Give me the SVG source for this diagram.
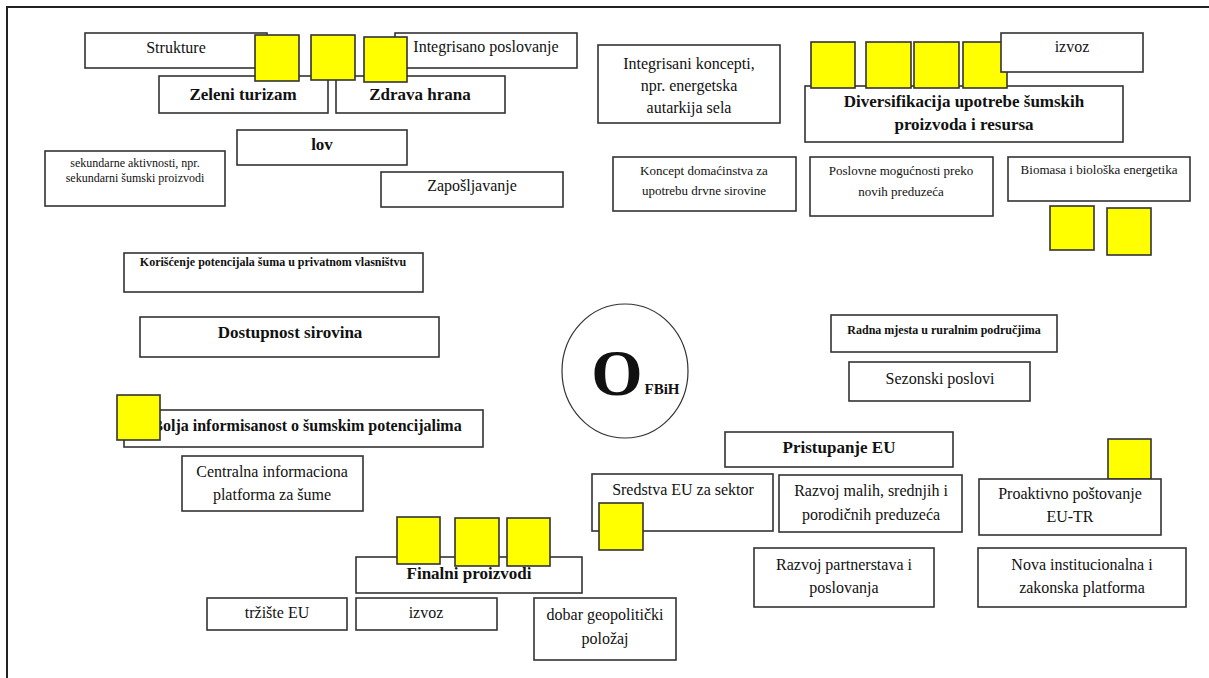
<svg xmlns="http://www.w3.org/2000/svg" width="1209" height="678" viewBox="0 0 1209 678">
<style>
.b{fill:#fff;stroke:#333;stroke-width:1.6}
.y{fill:#ffff00;stroke:#333;stroke-width:1.6}
text{font-family:"Liberation Serif","Times New Roman",serif;fill:#111;text-anchor:middle}
.n{font-size:16px}
.bd{font-size:17px;font-weight:bold}
.s{font-size:13px}
.sb{font-size:12px;font-weight:bold}
.ss{font-size:12px}
</style>
<rect x="0" y="0" width="1209" height="678" fill="#fff"/>
<path d="M7,678 V7 H1209" fill="none" stroke="#222" stroke-width="2"/>
<g id="connectors"></g>

<g id="n-strukture"><rect class="b" x="85" y="33" width="182" height="35"/><text class="n" x="176" y="53">Strukture</text></g>
<g id="n-integrisano"><rect class="b" x="395" y="33" width="182" height="35"/><text class="n" x="486" y="52">Integrisano poslovanje</text></g>
<g id="n-zeleni"><rect class="b" x="159" y="76" width="169" height="37"/><text class="bd" x="243" y="100">Zeleni turizam</text></g>
<g id="n-zdrava"><rect class="b" x="336" y="76" width="169" height="37"/><text class="bd" x="420" y="100">Zdrava hrana</text></g>
<g id="y1"><rect class="y" x="255" y="35" width="44" height="46"/></g>
<g id="y2"><rect class="y" x="311" y="35" width="44" height="45"/></g>
<g id="y3"><rect class="y" x="364" y="37" width="43" height="45"/></g>
<g id="n-lov"><rect class="b" x="237" y="130" width="170" height="35"/><text class="bd" x="322" y="150">lov</text></g>
<g id="n-sekundarne"><rect class="b" x="45" y="151" width="180" height="55"/><text class="ss" x="135" y="167">sekundarne aktivnosti, npr.</text><text class="ss" x="135" y="182">sekundarni šumski proizvodi</text></g>
<g id="n-zaposljavanje"><rect class="b" x="381" y="172" width="182" height="35"/><text class="n" x="472" y="191">Zapošljavanje</text></g>

<g id="n-koncepti"><rect class="b" x="598" y="45" width="182" height="78"/><text class="n" x="689" y="69">Integrisani koncepti,</text><text class="n" x="689" y="91">npr. energetska</text><text class="n" x="689" y="113">autarkija sela</text></g>
<g id="n-diversifikacija"><rect class="b" x="805" y="86" width="318" height="56"/><text class="bd" x="964" y="107">Diversifikacija upotrebe šumskih</text><text class="bd" x="964" y="130">proizvoda i resursa</text></g>
<g id="y4"><rect class="y" x="811" y="42" width="44" height="46"/></g>
<g id="y5"><rect class="y" x="866" y="42" width="45" height="46"/></g>
<g id="y6"><rect class="y" x="914" y="42" width="45" height="46"/></g>
<g id="y7"><rect class="y" x="963" y="42" width="44" height="46"/></g>
<g id="n-izvoz-top"><rect class="b" x="1001" y="33" width="142" height="39"/><text class="n" x="1072" y="52">izvoz</text></g>
<g id="n-domacinstvo"><rect class="b" x="613" y="157" width="183" height="54"/><text class="s" x="704" y="175">Koncept domaćinstva za</text><text class="s" x="704" y="195">upotrebu drvne sirovine</text></g>
<g id="n-poslovne"><rect class="b" x="810" y="157" width="183" height="59"/><text class="s" x="901" y="175">Poslovne mogućnosti preko</text><text class="s" x="901" y="196">novih preduzeća</text></g>
<g id="n-biomasa"><rect class="b" x="1008" y="157" width="182" height="44"/><text class="s" x="1099" y="174">Biomasa i biološka energetika</text></g>
<g id="y8"><rect class="y" x="1050" y="206" width="44" height="44"/></g>
<g id="y9"><rect class="y" x="1107" y="208" width="44" height="47"/></g>

<g id="n-koriscenje"><rect class="b" x="124" y="253" width="299" height="39"/><text class="sb" x="273" y="266">Korišćenje potencijala šuma u privatnom vlasništvu</text></g>
<g id="n-dostupnost"><rect class="b" x="140" y="317" width="299" height="40"/><text class="bd" x="290" y="338">Dostupnost sirovina</text></g>

<g id="n-center"><ellipse cx="625" cy="371" rx="63" ry="67" fill="#fff" stroke="#333" stroke-width="1.2"/><text x="617" y="395" style="font-size:66px;font-weight:bold">O</text><text x="662" y="394" style="font-size:15px;font-weight:bold">FBiH</text></g>

<g id="n-radna"><rect class="b" x="831" y="315" width="226" height="37"/><text class="sb" x="944" y="334">Radna mjesta u ruralnim područjima</text></g>
<g id="n-sezonski"><rect class="b" x="849" y="362" width="181" height="39"/><text class="n" x="940" y="384">Sezonski poslovi</text></g>
<g id="n-pristupanje"><rect class="b" x="725" y="432" width="228" height="35"/><text class="bd" x="839" y="453">Pristupanje EU</text></g>
<g id="n-sredstva"><rect class="b" x="592" y="474" width="181" height="57"/><text class="n" x="683" y="495">Sredstva EU za sektor</text></g>
<g id="y10"><rect class="y" x="599" y="503" width="44" height="47"/></g>
<g id="n-razvoj-malih"><rect class="b" x="779" y="475" width="183" height="57"/><text class="n" x="871" y="496">Razvoj malih, srednjih i</text><text class="n" x="871" y="520">porodičnih preduzeća</text></g>
<g id="y11"><rect class="y" x="1108" y="439" width="43" height="40"/></g>
<g id="n-proaktivno"><rect class="b" x="979" y="479" width="182" height="56"/><text class="n" x="1070" y="499">Proaktivno poštovanje</text><text class="n" x="1070" y="522">EU-TR</text></g>

<g id="n-bolja"><rect class="b" x="124" y="410" width="359" height="37"/><text x="307" y="431" style="font-size:16px;font-weight:bold">Bolja informisanost o šumskim potencijalima</text></g>
<g id="y12"><rect class="y" x="117" y="395" width="43" height="45"/></g>
<g id="n-centralna"><rect class="b" x="182" y="456" width="181" height="55"/><text class="n" x="272" y="477">Centralna informaciona</text><text class="n" x="272" y="500">platforma za šume</text></g>

<g id="n-finalni"><rect class="b" x="356" y="557" width="226" height="36"/><text class="bd" x="469" y="579">Finalni proizvodi</text></g>
<g id="y13"><rect class="y" x="397" y="517" width="43" height="47"/></g>
<g id="y14"><rect class="y" x="455" y="518" width="44" height="48"/></g>
<g id="y15"><rect class="y" x="507" y="518" width="43" height="48"/></g>
<g id="n-trziste"><rect class="b" x="207" y="598" width="140" height="32"/><text class="n" x="277" y="618">tržište EU</text></g>
<g id="n-izvoz"><rect class="b" x="356" y="598" width="141" height="32"/><text class="n" x="426" y="618">izvoz</text></g>
<g id="n-dobar"><rect class="b" x="534" y="598" width="142" height="62"/><text class="n" x="605" y="620">dobar geopolitički</text><text class="n" x="605" y="644">položaj</text></g>
<g id="n-partnerstva"><rect class="b" x="754" y="548" width="180" height="59"/><text class="n" x="844" y="570">Razvoj partnerstava i</text><text class="n" x="844" y="593">poslovanja</text></g>
<g id="n-nova"><rect class="b" x="978" y="548" width="208" height="59"/><text class="n" x="1082" y="570">Nova institucionalna i</text><text class="n" x="1082" y="593">zakonska platforma</text></g>
</svg>
